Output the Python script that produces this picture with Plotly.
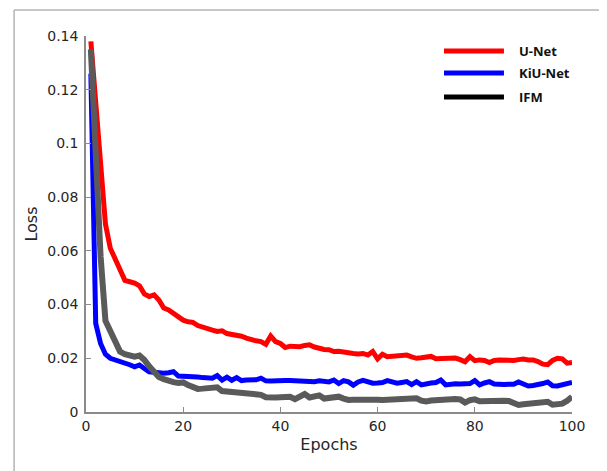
import plotly.graph_objects as go

epochs = list(range(1, 101))

unet = [0.138, 0.115, 0.092, 0.070, 0.061, 0.057, 0.052, 0.049, 0.0485, 0.048,
        0.047, 0.044, 0.043, 0.0436, 0.0417, 0.0387, 0.038, 0.0368, 0.0355, 0.0342,
        0.0336, 0.0334, 0.0322, 0.0315, 0.031, 0.0305, 0.030, 0.0302, 0.0292, 0.0290,
        0.0287, 0.0282, 0.0275, 0.0268, 0.0265, 0.0262, 0.0252, 0.0283, 0.0262, 0.0255,
        0.0240, 0.0245, 0.0243, 0.0243, 0.0248, 0.0250, 0.0242, 0.0237, 0.0233, 0.0232,
        0.0225, 0.0226, 0.0222, 0.0220, 0.0218, 0.0216, 0.0218, 0.0212, 0.0225, 0.0198,
        0.0215, 0.0206, 0.0208, 0.0207, 0.0210, 0.0212, 0.0205, 0.0200, 0.0202, 0.0204,
        0.0207, 0.0198, 0.0198, 0.0200, 0.0199, 0.0201, 0.0195, 0.0187, 0.0206, 0.0191,
        0.0194, 0.0192, 0.0184, 0.0192, 0.0194, 0.0192, 0.0190, 0.0192, 0.0195, 0.0197,
        0.0194, 0.0194, 0.0188, 0.0178, 0.0176, 0.0192, 0.0200, 0.0198, 0.0182, 0.0184]

kiunet = [0.126, 0.033, 0.0255, 0.0215, 0.0200, 0.0195, 0.0188, 0.0182, 0.0176, 0.0168,
          0.0175, 0.0162, 0.0150, 0.0148, 0.0145, 0.0144, 0.0146, 0.0150, 0.0134, 0.0134,
          0.0132, 0.0131, 0.0130, 0.0128, 0.0126, 0.0126, 0.0136, 0.0119, 0.0130, 0.0118,
          0.0128, 0.0117, 0.0119, 0.0118, 0.0120, 0.0126, 0.0116, 0.0115, 0.0117, 0.0118,
          0.0117, 0.0117, 0.0116, 0.0116, 0.0113, 0.0110, 0.0113, 0.0116, 0.0113, 0.0112,
          0.0119, 0.0106, 0.0117, 0.0112, 0.0100, 0.0112, 0.0118, 0.0112, 0.0107, 0.0108,
          0.0110, 0.0117, 0.0110, 0.0107, 0.0110, 0.0113, 0.0102, 0.0113, 0.0101, 0.0106,
          0.0108, 0.0110, 0.0119, 0.0101, 0.0104, 0.0105, 0.0104, 0.0104, 0.0106, 0.0117,
          0.0101, 0.0108, 0.0113, 0.0104, 0.0101, 0.0102, 0.0103, 0.0103, 0.0112, 0.0102,
          0.0097, 0.0099, 0.0101, 0.0106, 0.0112, 0.0098, 0.0097, 0.0100, 0.0105, 0.0110]

ifm = [0.135, 0.100, 0.058, 0.034, 0.030, 0.027, 0.0225, 0.0215, 0.0210, 0.0206,
       0.0210, 0.0194, 0.0170, 0.0150, 0.0130, 0.0122, 0.0115, 0.0111, 0.0108, 0.0110,
       0.0100, 0.0095, 0.0086, 0.0087, 0.0088, 0.0087, 0.0092, 0.0078, 0.0076, 0.0077,
       0.0072, 0.0068, 0.0069, 0.0068, 0.0066, 0.0064, 0.0055, 0.0052, 0.0054, 0.0055,
       0.0056, 0.0057, 0.0048, 0.0058, 0.0067, 0.0054, 0.0058, 0.0062, 0.0050, 0.0054,
       0.0056, 0.0057, 0.0050, 0.0045, 0.0046, 0.0047, 0.0048, 0.0047, 0.0046, 0.0046,
       0.0045, 0.0046, 0.0046, 0.0047, 0.0047, 0.0048, 0.0050, 0.0051, 0.0042, 0.0039,
       0.0043, 0.0045, 0.0046, 0.0047, 0.0047, 0.0048, 0.0047, 0.0035, 0.0044, 0.0047,
       0.0040, 0.0041, 0.0043, 0.0045, 0.0045, 0.0042, 0.0041, 0.0034, 0.0026, 0.0029,
       0.0031, 0.0032, 0.0035, 0.0037, 0.0038, 0.0027, 0.0028, 0.0031, 0.0042, 0.0057]

series_names = ["U-Net", "KiU-Net", "IFM"]
line_colors = ["#ff0000", "#0000ff", "#5a5a5a"]
legend_colors = ["#ff0000", "#0000ff", "#000000"]
line_widths = [5, 5, 6]

x_tickvals = [0, 20, 40, 60, 80, 100]
x_ticktext = ["0", "20", "40", "60", "80", "100"]
y_tickvals = [0, 0.02, 0.04, 0.06, 0.08, 0.10, 0.12, 0.14]
y_ticktext = ["0", "0.02", "0.04", "0.06", "0.08", "0.1", "0.12", "0.14"]

fig = go.Figure()
for name, ys, col, w in zip(series_names, [unet, kiunet, ifm], line_colors, line_widths):
    fig.add_trace(go.Scatter(x=epochs, y=ys, mode="lines", name=name,
                             line=dict(color=col, width=w), showlegend=False))

axis_col = "#8a8a8a"
fig.update_layout(
    width=599, height=463,
    margin=dict(l=78, r=35, t=28, b=59),
    paper_bgcolor="white", plot_bgcolor="white",
    font=dict(family="DejaVu Sans", size=14, color="#262626"),
    xaxis=dict(range=[0, 100], tickvals=x_tickvals, ticktext=x_ticktext,
               showgrid=False, zeroline=False, showline=True, linecolor=axis_col,
               linewidth=1.5, ticks="inside", ticklen=5, tickcolor=axis_col, tickwidth=1.2,
               title=dict(text="Epochs", font=dict(size=16), standoff=6)),
    yaxis=dict(range=[0, 0.14], tickvals=y_tickvals, ticktext=y_ticktext,
               showgrid=False, zeroline=False, showline=True, linecolor=axis_col,
               linewidth=1.5, ticks="inside", ticklen=5, tickcolor=axis_col, tickwidth=1.2,
               ticklabelstandoff=3,
               title=dict(text="Loss", font=dict(size=16), standoff=6)),
)

# outer frame (left and top edges)
frame_col = "#b4b4b4"
fig.add_shape(type="line", xref="paper", yref="paper", x0=-0.148, x1=-0.148,
              y0=1.069, y1=-0.16, line=dict(color=frame_col, width=1.5))
fig.add_shape(type="line", xref="paper", yref="paper", x0=-0.148, x1=1.08,
              y0=1.069, y1=1.069, line=dict(color=frame_col, width=1.5))

# legend drawn manually
leg_y = [0.960, 0.9016, 0.8378]
for name, col, ly in zip(series_names, legend_colors, leg_y):
    fig.add_shape(type="line", xref="paper", yref="paper", x0=0.7366, x1=0.860,
                  y0=ly, y1=ly, line=dict(color=col, width=5))
    fig.add_annotation(xref="paper", yref="paper", x=0.8868, y=ly, text="<b>" + name + "</b>",
                       showarrow=False, xanchor="left", yanchor="middle",
                       font=dict(family="Open Sans", size=13, color="#111111"))

fig.write_html("out.html")
